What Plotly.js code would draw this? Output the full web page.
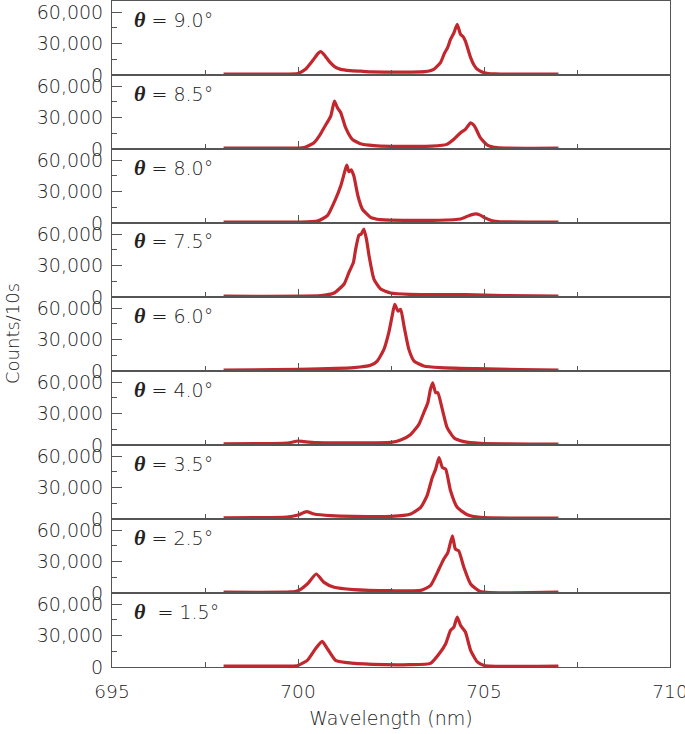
<!DOCTYPE html>
<html><head><meta charset="utf-8">
<script src="https://cdn.plot.ly/plotly-3.0.1.min.js"></script>
<style>html,body{margin:0;padding:0;background:#fff}#chart{width:685px;height:734px}</style>
</head><body><div id="chart"></div>
<script>
// Panel labels (theta, degrees), top to bottom
const thetaLabels = ['9.0','8.5','8.0','7.5','6.0','4.0','3.5','2.5','1.5'];
const yTickVals = [0, 30000, 60000];
const yTickText = ['0', '30,000', '60,000'];

// theta = 9.0
const wl1 = [698.0, 699.5, 700.0, 700.2, 700.4, 700.55, 700.61, 700.7, 700.85, 701.0, 701.15, 701.4, 701.7, 702.0, 702.5, 703.0, 703.4, 703.65, 703.83, 703.94, 704.02, 704.1, 704.19, 704.28, 704.37, 704.44, 704.5, 704.57, 704.64, 704.73, 704.82, 705.0, 705.3, 707.0];
const c1  = [800, 900, 1500, 5500, 14000, 21000, 22200, 19500, 12500, 7500, 5400, 4200, 3600, 3000, 2800, 2800, 3200, 5400, 11700, 21000, 26000, 33900, 40000, 48200, 38700, 36500, 32300, 24500, 16500, 9500, 5400, 2200, 1000, 800];
// theta = 8.5
const wl2 = [698.0, 700.0, 700.16, 700.43, 700.6, 700.7, 700.88, 700.98, 701.06, 701.15, 701.28, 701.46, 701.68, 702.04, 702.5, 703.0, 703.6, 704.0, 704.19, 704.37, 704.5, 704.57, 704.64, 704.72, 704.77, 704.9, 705.09, 705.35, 707.0];
const c2  = [800, 900, 1300, 6000, 14000, 20300, 31400, 45600, 39300, 34500, 20300, 9200, 5000, 3200, 2500, 2500, 2800, 4400, 9200, 15500, 18700, 22000, 25000, 23000, 20300, 10800, 3800, 1300, 800];
// theta = 8.0
const wl3 = [698.0, 700.0, 700.52, 700.79, 701.01, 701.15, 701.25, 701.31, 701.37, 701.43, 701.5, 701.61, 701.73, 701.95, 702.22, 703.0, 703.8, 704.37, 704.59, 704.77, 704.9, 705.0, 705.22, 705.44, 707.0];
const c3  = [800, 900, 1800, 7000, 22800, 35500, 48200, 55200, 48800, 50700, 45000, 26000, 13300, 5400, 3200, 2500, 2600, 3800, 7000, 8600, 7500, 5400, 2200, 1200, 800];
// theta = 7.5
const wl4 = [698.0, 700.6, 700.97, 701.24, 701.37, 701.49, 701.55, 701.64, 701.7, 701.77, 701.84, 701.91, 702.04, 702.22, 702.49, 703.0, 704.5, 705.53, 707.0];
const c4  = [800, 1300, 3800, 12400, 23500, 33000, 45600, 59000, 59900, 64700, 55200, 39300, 17100, 7600, 3800, 2500, 2200, 1300, 800];
// theta = 6.0
const wl5 = [698.0, 700.0, 701.5, 701.95, 702.13, 702.31, 702.44, 702.53, 702.6, 702.69, 702.76, 702.85, 702.98, 703.12, 703.38, 703.83, 704.8, 706.0, 707.0];
const c5  = [900, 1600, 3200, 5400, 9500, 20600, 36500, 52300, 63400, 57100, 58700, 42800, 20600, 9500, 4800, 3200, 2200, 1300, 900];
// theta = 4.0
const wl6 = [698.0, 699.7, 700.0, 700.16, 700.5, 701.5, 702.5, 702.76, 703.03, 703.25, 703.38, 703.49, 703.56, 703.62, 703.7, 703.76, 703.88, 704.01, 704.19, 704.46, 704.9, 707.0];
const c6  = [1200, 1800, 3800, 3200, 2200, 2000, 2500, 4800, 10100, 19700, 30700, 40300, 52900, 59300, 49800, 49800, 33900, 16500, 7000, 3200, 1500, 800];
// theta = 3.5
const wl7 = [698.0, 699.7, 700.0, 700.23, 700.43, 700.88, 701.5, 702.5, 703.03, 703.3, 703.47, 703.61, 703.7, 703.79, 703.88, 703.97, 704.1, 704.28, 704.55, 704.9, 707.0];
const c7  = [1200, 1800, 3800, 7000, 4800, 3200, 2500, 2500, 4800, 11100, 22200, 39600, 47500, 58600, 49100, 47500, 26900, 11100, 4100, 1500, 800];
// theta = 2.5
const wl8 = [698.0, 699.8, 700.0, 700.25, 700.49, 700.7, 700.97, 701.5, 702.5, 703.3, 703.56, 703.79, 703.92, 704.03, 704.15, 704.23, 704.32, 704.46, 704.64, 704.9, 707.0];
const c8  = [800, 1000, 2200, 8600, 18100, 10100, 5400, 3200, 2200, 2500, 7000, 22800, 32300, 38700, 54500, 41800, 40300, 24400, 8600, 1500, 800];
// theta = 1.5
const wl9 = [698.0, 699.8, 700.0, 700.25, 700.47, 700.65, 700.79, 701.01, 701.32, 702.0, 703.0, 703.56, 703.83, 703.97, 704.1, 704.19, 704.28, 704.37, 704.5, 704.64, 704.82, 705.0, 707.0];
const c9  = [800, 900, 1500, 6300, 17400, 24400, 17400, 6300, 4100, 2500, 2200, 3500, 14300, 22200, 34900, 38000, 47600, 39600, 33300, 15900, 4800, 1500, 800];

const series = [[wl1,c1],[wl2,c2],[wl3,c3],[wl4,c4],[wl5,c5],[wl6,c6],[wl7,c7],[wl8,c8],[wl9,c9]];

const N = series.length;
const AX = '#555555', TXT = '#222222', RED = '#c1272d';
const FONT = 'DejaVu Sans, Open Sans, sans-serif';
const data = [];
const layout = {
  width: 685, height: 734,
  margin: {l: 112, r: 15, t: 1, b: 67},
  showlegend: false,
  paper_bgcolor: '#fff', plot_bgcolor: '#fff',
  font: {family: FONT, color: TXT, weight: 300},
  annotations: []
};
for (let i = 0; i < N; i++) {
  const k = i + 1;
  const xn = k === 1 ? 'x' : 'x' + k;
  const yn = k === 1 ? 'y' : 'y' + k;
  data.push({x: series[i][0], y: series[i][1], xaxis: xn, yaxis: yn, type: 'scatter', mode: 'lines',
    line: {color: RED, width: 3.2, shape: 'spline', smoothing: 0.5}, hoverinfo: 'skip', cliponaxis: true});
  const top = 1 - i / N, bot = 1 - (i + 1) / N;
  layout['yaxis' + (k === 1 ? '' : k)] = {
    domain: [bot, top], anchor: xn, range: [0, 70500], fixedrange: true,
    tickmode: 'array', tickvals: yTickVals, ticktext: yTickText,
    ticks: 'inside', ticklen: 10, tickwidth: 1, tickcolor: AX,
    minor: {tickmode: 'array', tickvals: [15000, 45000], ticks: 'inside', ticklen: 5, tickwidth: 1, tickcolor: AX},
    showline: true, linecolor: AX, linewidth: 1, mirror: true,
    showgrid: false, zeroline: false, ticklabeloverflow: 'allow',
    tickfont: {size: 19, color: TXT, family: FONT, weight: 300}, ticklabelstandoff: 4
  };
  const xa = {
    domain: [0, 1], anchor: yn, range: [695, 710], fixedrange: true,
    tickmode: 'linear', tick0: 695, dtick: 5,
    ticks: 'inside', ticklen: 8, tickwidth: 1, tickcolor: AX,
    minor: {tickmode: 'linear', tick0: 695, dtick: 2.5, ticks: 'inside', ticklen: 5, tickwidth: 1, tickcolor: AX},
    showline: true, linecolor: AX, linewidth: 1, mirror: true,
    showgrid: false, zeroline: false, ticklabeloverflow: 'allow',
    showticklabels: k === N, ticklabelstandoff: 8,
    tickfont: {size: 18.5, color: TXT, family: FONT, weight: 300}
  };
  if (k === N) {
    xa.title = {text: 'Wavelength (nm)', font: {size: 19, color: TXT, family: FONT, weight: 300}, standoff: 10};
  }
  layout['xaxis' + (k === 1 ? '' : k)] = xa;
  const sp = k === N ? '\u00a0\u00a0' : ' ';
  layout.annotations.push({
    xref: xn, yref: yn + ' domain', x: 695.55, y: 1, xanchor: 'left', yanchor: 'middle', yshift: -18,
    showarrow: false,
    text: "<span style=\"font-family:'Liberation Serif';font-style:italic;font-weight:bold;font-size:22px\">θ</span>" + sp + '= ' + thetaLabels[i] + '°',
    font: {size: 19, color: TXT, family: FONT, weight: 300}
  });
}
layout.annotations.push({
  xref: 'paper', yref: 'paper', x: 0, y: 0.5, xanchor: 'center', yanchor: 'middle',
  xshift: -100, textangle: -90, showarrow: false,
  text: 'Counts/10s', font: {size: 18, color: TXT, family: FONT, weight: 300}
});
Plotly.newPlot('chart', data, layout, {displayModeBar: false, staticPlot: true});
</script>
</body></html>
